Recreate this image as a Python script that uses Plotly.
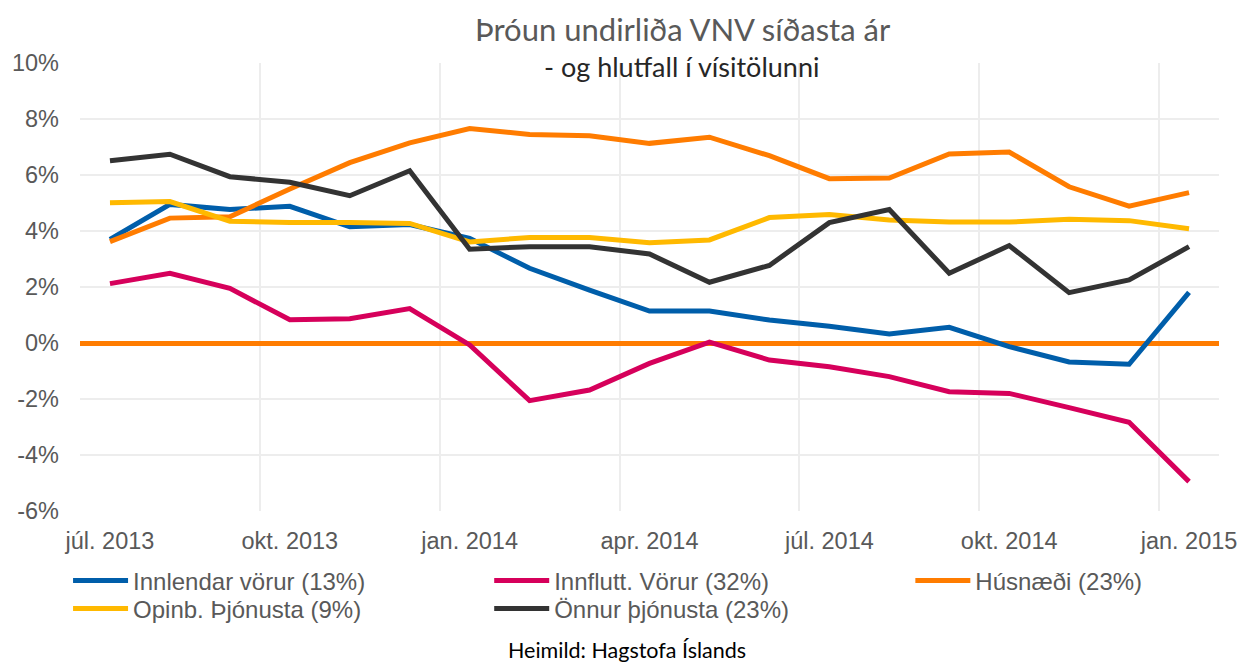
import plotly.graph_objects as go

# ---- data ----
months = ["júl. 2013", "ágú. 2013", "sep. 2013", "okt. 2013", "nóv. 2013", "des. 2013",
          "jan. 2014", "feb. 2014", "mar. 2014", "apr. 2014", "maí 2014", "jún. 2014",
          "júl. 2014", "ágú. 2014", "sep. 2014", "okt. 2014", "nóv. 2014", "des. 2014",
          "jan. 2015"]
innlendar = [3.70, 4.95, 4.77, 4.88, 4.15, 4.23, 3.74, 2.67, 1.89, 1.14, 1.14, 0.82,
             0.60, 0.32, 0.56, -0.13, -0.68, -0.76, 1.81]
innflutt = [2.12, 2.49, 1.95, 0.83, 0.87, 1.23, -0.07, -2.06, -1.68, -0.73, 0.03, -0.61,
            -0.85, -1.20, -1.74, -1.80, -2.31, -2.83, -4.95]
husnaedi = [3.62, 4.46, 4.51, 5.50, 6.44, 7.15, 7.66, 7.45, 7.40, 7.13, 7.35, 6.69,
            5.87, 5.89, 6.75, 6.82, 5.58, 4.89, 5.37]
opinb = [5.01, 5.05, 4.35, 4.30, 4.30, 4.27, 3.61, 3.77, 3.77, 3.58, 3.68, 4.48,
         4.59, 4.39, 4.32, 4.32, 4.42, 4.37, 4.08]
onnur = [6.51, 6.74, 5.94, 5.74, 5.26, 6.15, 3.35, 3.44, 3.44, 3.18, 2.17, 2.77,
         4.30, 4.77, 2.49, 3.48, 1.80, 2.25, 3.44]

series_names = ["Innlendar vörur (13%)", "Innflutt. Vörur (32%)", "Húsnæði (23%)",
                "Opinb. Þjónusta (9%)", "Önnur þjónusta (23%)"]
series_colors = ["#005EAA", "#D6005B", "#FF7C00", "#FFB900", "#333333"]

x_tick_labels = ["júl. 2013", "okt. 2013", "jan. 2014", "apr. 2014", "júl. 2014",
                 "okt. 2014", "jan. 2015"]
y_tick_vals = [-6, -4, -2, 0, 2, 4, 6, 8, 10]
y_tick_text = ["-6%", "-4%", "-2%", "0%", "2%", "4%", "6%", "8%", "10%"]

title_text = "Þróun undirliða VNV síðasta ár"
subtitle_text = "- og hlutfall í vísitölunni"
source_text = "Heimild: Hagstofa Íslands"

# ---- figure ----
x_idx = list(range(len(months)))
x_tick_vals = [months.index(m) for m in x_tick_labels]
boundaries = [v + 2.5 for v in x_tick_vals[:-1]]

all_series = [innlendar, innflutt, husnaedi, opinb, onnur]
legend_ids = ["legend", "legend2", "legend3", "legend4", "legend5"]

fig = go.Figure()
for vals, name, col, lg in zip(all_series, series_names, series_colors, legend_ids):
    fig.add_trace(go.Scatter(
        x=x_idx, y=vals, name=name, mode="lines",
        line=dict(color=col, width=5),
        legend=lg, customdata=months,
        hovertemplate="%{customdata}: %{y:.2f}%<extra>" + name + "</extra>",
    ))

txt_col = "#595959"
tick_font = dict(family="Liberation Sans, Arial, sans-serif", size=23.5, color=txt_col)
legend_font = dict(family="Liberation Sans, Arial, sans-serif", size=24, color=txt_col)

W, H = 1249, 666
ml, mr, mt, mb = 78, 27, 63, 155
pw, ph = W - ml - mr, H - mt - mb


def px_x(px):
    return (px - ml) / pw


def px_y(py):
    return (H - mb - py) / ph


leg_cols = [66, 489, 912, 66, 489]
leg_rows = [581, 581, 581, 609, 609]
legend_layouts = {}
for lg, cx, ry in zip(legend_ids, leg_cols, leg_rows):
    legend_layouts[lg] = dict(
        x=px_x(cx), y=px_y(ry), xanchor="left", yanchor="middle",
        orientation="v", bgcolor="rgba(0,0,0,0)", borderwidth=0,
        font=legend_font, itemwidth=55, tracegroupgap=0,
    )

fig.update_layout(
    width=W, height=H,
    margin=dict(l=ml, r=mr, t=mt, b=mb),
    paper_bgcolor="white", plot_bgcolor="white",
    showlegend=True,
    xaxis=dict(
        range=[-0.5, len(months) - 0.5],
        tickmode="array", tickvals=x_tick_vals, ticktext=x_tick_labels,
        showgrid=False, zeroline=False, showline=False, ticks="",
        tickfont=tick_font, ticklabelstandoff=13,
        minor=dict(tickmode="array", tickvals=boundaries, showgrid=True,
                   gridcolor="#EDEDED", gridwidth=1.5, ticks=""),
        fixedrange=True,
    ),
    yaxis=dict(
        range=[-6, 10],
        tickmode="array", tickvals=y_tick_vals, ticktext=y_tick_text,
        showgrid=True, gridcolor="#EDEDED", gridwidth=1.5,
        zeroline=True, zerolinecolor="#FF7C00", zerolinewidth=5,
        showline=False, ticks="", tickfont=tick_font, ticklabelstandoff=20,
        fixedrange=True,
    ),
    annotations=[
        dict(text=title_text, x=px_x(684), y=px_y(29), xref="paper", yref="paper",
             xanchor="center", yanchor="middle", showarrow=False,
             font=dict(family="Lato, Open Sans, sans-serif", size=31, color=txt_col)),
        dict(text=subtitle_text, x=px_x(682), y=px_y(67), xref="paper", yref="paper",
             xanchor="center", yanchor="middle", showarrow=False,
             font=dict(family="Lato, Open Sans, sans-serif", size=27, color="#262626")),
        dict(text=source_text, x=px_x(627), y=px_y(650), xref="paper", yref="paper",
             xanchor="center", yanchor="middle", showarrow=False,
             font=dict(family="Lato, Open Sans, sans-serif", size=21.5, color="#000000")),
    ],
    **legend_layouts,
)

fig.write_html("out.html")
